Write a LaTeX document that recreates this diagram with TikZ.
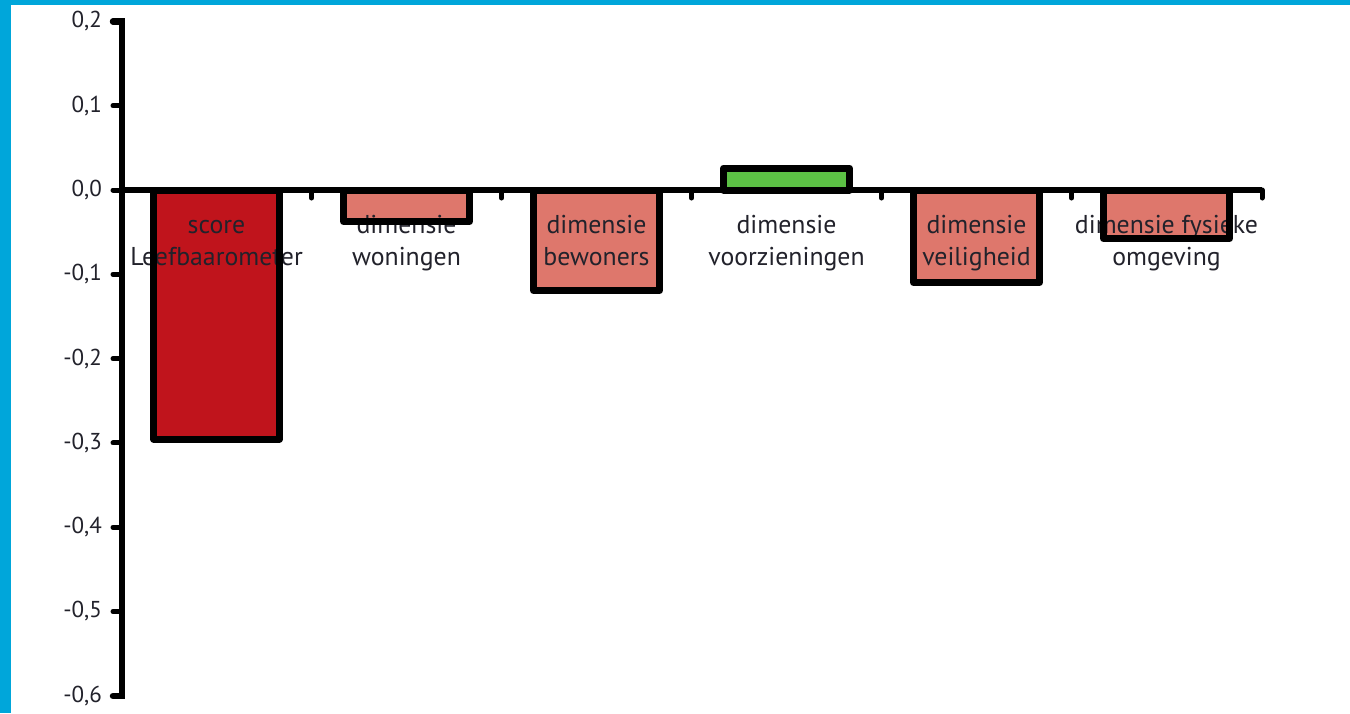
\documentclass[tikz,border=0pt]{standalone}
\usepackage{fontspec}
\setmainfont{PT Sans}
\definecolor{framecol}{HTML}{00A6DA}
\definecolor{darkred}{HTML}{C0141C}
\definecolor{salmon}{HTML}{DE776C}
\definecolor{barsgreen}{HTML}{5CC145}
\definecolor{txt}{HTML}{22222B}
\tikzset{
  axisline/.style={line width=6.5pt, black},
  tickline/.style={line width=5pt, black, line cap=round},
  barborder/.style={line width=7pt, black, line join=round},
  catlabel/.style={anchor=base, inner sep=0pt, text=txt, font=\fontsize{25.8}{30}\selectfont},
  ticklabel/.style={anchor=east, inner sep=0pt, text=txt, font=\fontsize{23}{28}\selectfont},
}
\begin{document}
\begin{tikzpicture}[x=1pt, y=-1pt]
\useasboundingbox (0,0) rectangle (1350,713);
\fill[white] (0,0) rectangle (1350,713);
% blue frame along the top and left edges
\fill[framecol] (0,0) rectangle (1350,4.5);
\fill[framecol] (0,0) rectangle (10.5,713);

% bar fills (value v at y = 190 - 843 v)
\fill[darkred]   (153.5,190) rectangle (279.5,439);
\fill[salmon]    (343.5,190) rectangle (469.5,221.5);
\fill[salmon]    (533.5,190) rectangle (659.5,290.5);
\fill[barsgreen] (723.5,190) rectangle (849.5,168);
\fill[salmon]    (913.5,190) rectangle (1039.5,282.5);
\fill[salmon]    (1103.5,190) rectangle (1229.5,238.5);

% category labels
\node[catlabel] (l1a) at (216.5,233) {score};
\node[catlabel] (l1b) at (216.5,265) {Leefbaarometer};
\node[catlabel] (l2a) at (406.5,233) {dimensie};
\node[catlabel] (l2b) at (406.5,265) {woningen};
\node[catlabel] (l3a) at (596.5,233) {dimensie};
\node[catlabel] (l3b) at (596.5,265) {bewoners};
\node[catlabel] (l4a) at (786.5,233) {dimensie};
\node[catlabel] (l4b) at (786.5,265) {voorzieningen};
\node[catlabel] (l5a) at (976.5,233) {dimensie};
\node[catlabel] (l5b) at (976.5,265) {veiligheid};
\node[catlabel] (l6a) at (1166.5,233) {dimensie fysieke};
\node[catlabel] (l6b) at (1166.5,265) {omgeving};

% bar borders
\draw[barborder] (153.5,190) rectangle (279.5,439);
\draw[barborder] (343.5,190) rectangle (469.5,221.5);
\draw[barborder] (533.5,190) rectangle (659.5,290.5);
\draw[barborder] (723.5,190) rectangle (849.5,168);
\draw[barborder] (913.5,190) rectangle (1039.5,282.5);
\draw[barborder] (1103.5,190) rectangle (1229.5,238.5);

% value axis with ticks
\draw[axisline, line cap=round] (113,21.5) -- (122,21.5) -- (122,696) -- (113,696);
\foreach \v in {0.1, 0.0, -0.1, -0.2, -0.3, -0.4, -0.5} {
  \draw[tickline] (113,190-843*\v) -- (122,190-843*\v);
}
\foreach \v/\t/\n in {0.2/{0,2}/a, 0.1/{0,1}/b, 0.0/{0,0}/c, -0.1/{-0,1}/d, -0.2/{-0,2}/e, -0.3/{-0,3}/f, -0.4/{-0,4}/g, -0.5/{-0,5}/h, -0.6/{-0,6}/i} {
  \node[ticklabel] (y\n) at (102,190-843*\v) {\t};
}

% category axis with ticks
\draw[axisline] (122,190) -- (1262,190);
\foreach \x in {311.5, 501.5, 691.5, 881.5, 1071.5, 1262} {
  \draw[tickline] (\x,190) -- (\x,198);
}
\end{tikzpicture}
\end{document}
